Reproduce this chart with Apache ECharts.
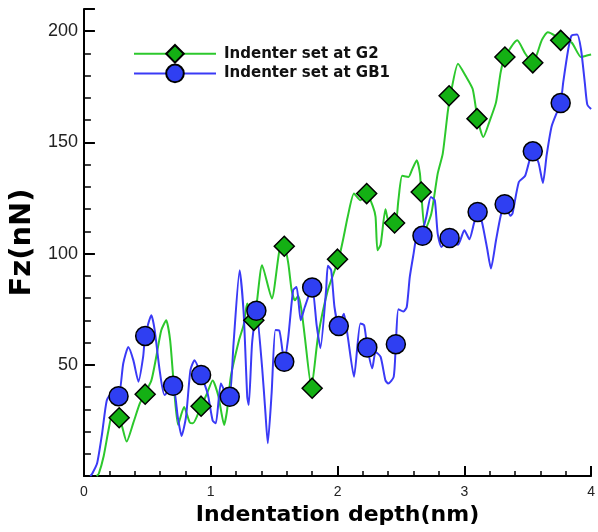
<!DOCTYPE html>
<html>
<head>
<meta charset="utf-8">
<script src="https://cdn.jsdelivr.net/npm/echarts@6/dist/echarts.min.js"></script>
<style>
    html, body { margin: 0; padding: 0; background: #fff; }
    #chart { width: 598px; height: 532px; }
</style>
</head>
<body>
<div id="chart"></div>
<script>
    // curves: [depth (nm), Fz (nN)]
    var g2Curve = [
        [0.10, 0], [0.117, 1], [0.156, 9], [0.195, 21], [0.22, 26.5], [0.28, 26], [0.337, 15.5],
        [0.39, 24], [0.44, 32.5], [0.48, 37], [0.532, 43], [0.57, 53.5], [0.61, 65.5], [0.649, 70],
        [0.68, 61], [0.706, 43], [0.742, 23], [0.79, 31], [0.835, 24], [0.86, 23.7], [0.924, 31.4],
        [0.97, 37], [1.015, 43], [1.06, 36], [1.106, 23], [1.13, 30], [1.158, 44.6], [1.223, 61],
        [1.26, 68], [1.288, 77.6], [1.34, 70], [1.405, 94.8], [1.482, 79.8], [1.547, 103], [1.58, 103.3],
        [1.612, 95.5], [1.638, 83.6], [1.664, 79], [1.69, 81], [1.716, 74.6], [1.742, 62.6], [1.794, 39.8],
        [1.846, 62.6], [1.924, 83.6], [2.01, 97.8], [2.05, 108], [2.08, 116.5], [2.13, 127], [2.18, 124],
        [2.23, 127], [2.28, 121], [2.30, 116.5], [2.315, 101.5], [2.34, 104], [2.378, 120], [2.40, 115],
        [2.456, 113.5], [2.48, 124], [2.51, 135], [2.56, 134.5], [2.586, 137.5], [2.625, 142], [2.65, 136],
        [2.66, 127.7], [2.69, 110.5], [2.74, 118], [2.79, 136], [2.83, 145], [2.87, 164], [2.89, 171],
        [2.95, 185.4], [3.01, 180], [3.066, 174], [3.105, 160.5], [3.15, 152.4], [3.196, 159], [3.25, 168],
        [3.287, 181.6], [3.32, 188.4], [3.417, 195.9], [3.48, 190], [3.54, 185.6], [3.611, 196], [3.658, 199.6],
        [3.715, 198], [3.76, 195.6], [3.845, 195], [3.92, 188.4], [3.96, 189], [4.0, 189.5]
    ];
    var gb1Curve = [
        [0.05, 0], [0.065, 1], [0.104, 5.7], [0.143, 19], [0.18, 34], [0.22, 37], [0.273, 36],
        [0.31, 50.6], [0.35, 58], [0.39, 52], [0.43, 42.4], [0.467, 53.6], [0.483, 63], [0.532, 72.3],
        [0.558, 65.6], [0.597, 47.6], [0.636, 36.4], [0.703, 40.6], [0.74, 26.6], [0.77, 18], [0.805, 26.6],
        [0.84, 47.6], [0.872, 52], [0.924, 45.4], [0.976, 37], [1.015, 25], [1.04, 23.7], [1.08, 41.6],
        [1.12, 37], [1.15, 35.6], [1.18, 59.6], [1.228, 92.5], [1.26, 73], [1.288, 35.6], [1.30, 32],
        [1.326, 59.6], [1.36, 74.3], [1.405, 49], [1.43, 29.6], [1.45, 14.7], [1.48, 37], [1.51, 65.6],
        [1.54, 65.5], [1.58, 51.4], [1.612, 62.6], [1.65, 83.6], [1.677, 85], [1.71, 70], [1.742, 76],
        [1.80, 84.8], [1.835, 68], [1.865, 57.5], [1.91, 83.6], [1.924, 94.5], [1.95, 92.5], [1.976, 76],
        [2.01, 67.5], [2.05, 73], [2.08, 63], [2.13, 44.6], [2.18, 68.6], [2.21, 67.8], [2.235, 57.8],
        [2.274, 48.4], [2.30, 55.8], [2.34, 53.6], [2.378, 43], [2.40, 41.6], [2.443, 44.6], [2.46, 59.3],
        [2.48, 75], [2.52, 74], [2.546, 76], [2.57, 89.5], [2.60, 100], [2.625, 108], [2.66, 108.5],
        [2.70, 116.5], [2.736, 125.5], [2.767, 124], [2.79, 109], [2.82, 103], [2.884, 107], [2.95, 104],
        [3.00, 110.5], [3.04, 106.5], [3.078, 114], [3.11, 118.5], [3.14, 114], [3.18, 102.3], [3.21, 93.3],
        [3.25, 106], [3.287, 117], [3.32, 122.2], [3.364, 117], [3.38, 118], [3.43, 132.2], [3.48, 135],
        [3.54, 146], [3.585, 141], [3.62, 131.8], [3.65, 144.5], [3.69, 157.5], [3.76, 168], [3.78, 177],
        [3.82, 192], [3.845, 198], [3.89, 198.5], [3.92, 192], [3.95, 177], [3.97, 167], [4.0, 165]
    ];
    // symbols drawn every ~0.22 nm
    var g2Marks = [
        [0.278, 26.2], [0.483, 36.8], [0.924, 31.4], [1.34, 70], [1.58, 103.3], [1.80, 39.5],
        [2.00, 97.5], [2.23, 127], [2.45, 113.8], [2.66, 127.7], [2.88, 171], [3.10, 160.7],
        [3.32, 188.4], [3.54, 185.8], [3.76, 195.9]
    ];
    var gb1Marks = [
        [0.273, 35.9], [0.483, 63], [0.703, 40.6], [0.924, 45.4], [1.15, 35.6], [1.36, 74.3],
        [1.58, 51.4], [1.80, 84.8], [2.01, 67.4], [2.235, 57.8], [2.46, 59.3], [2.67, 108],
        [2.884, 107], [3.105, 118.7], [3.318, 122.2], [3.54, 146], [3.76, 167.7]
    ];
    var yTickLabels = [50, 100, 150, 200];
    var seriesNames = ['Indenter set at G2', 'Indenter set at GB1'];

    var green = '#2cc82c', greenFill = '#14b014';
    var blue = '#3a3af6', blueFill = '#2f3ff2';

    var myChart = echarts.init(document.getElementById('chart'));
    var option = {
        backgroundColor: '#fff',
        animation: false,
        grid: { left: 83, right: 1, top: 9, bottom: 56, containLabel: false },
        legend: {
            orient: 'vertical',
            left: 128,
            top: 39,
            itemWidth: 82,
            itemHeight: 22,
            itemGap: 0,
            data: seriesNames,
            textStyle: {
                fontFamily: 'DejaVu Sans',
                fontWeight: 'bold',
                fontSize: 15,
                color: '#111',
                padding: [0, 0, 0, 3]
            }
        },
        xAxis: {
            type: 'value',
            min: 0,
            max: 4,
            interval: 1,
            name: 'Indentation depth(nm)',
            nameLocation: 'middle',
            nameGap: 26,
            nameTextStyle: { fontFamily: 'DejaVu Sans', fontWeight: 'bold', fontSize: 22, color: '#000' },
            axisLine: { lineStyle: { color: '#000', width: 2 } },
            axisTick: { inside: true, length: 10, lineStyle: { color: '#000', width: 2 } },
            minorTick: { show: true, splitNumber: 5, length: 5, lineStyle: { color: '#000', width: 1.5 } },
            axisLabel: { margin: 9, fontFamily: 'Liberation Sans', fontSize: 14, color: '#222' },
            splitLine: { show: false }
        },
        yAxis: {
            type: 'value',
            min: 0,
            max: 210,
            interval: 50,
            name: 'Fz(nN)',
            nameLocation: 'middle',
            nameGap: 40,
            nameTextStyle: { fontFamily: 'DejaVu Sans', fontWeight: 'bold', fontSize: 29, color: '#000' },
            axisLine: { lineStyle: { color: '#000', width: 2 } },
            axisTick: { inside: true, length: 11, lineStyle: { color: '#000', width: 2 } },
            minorTick: { show: true, splitNumber: 5, length: 7, lineStyle: { color: '#000', width: 1.5 } },
            axisLabel: {
                margin: 6,
                fontFamily: 'Liberation Sans',
                fontSize: 18,
                color: '#222',
                formatter: function (v) { return yTickLabels.indexOf(v) >= 0 ? String(v) : ''; }
            },
            splitLine: { show: false }
        },
        series: [
            {
                name: seriesNames[0],
                type: 'line',
                data: g2Curve,
                smooth: 0.2,
                showSymbol: false,
                symbol: 'diamond',
                lineStyle: { color: green, width: 2 },
                itemStyle: { color: greenFill, borderColor: '#000', borderWidth: 1.5 },
                z: 2
            },
            {
                name: seriesNames[1],
                type: 'line',
                data: gb1Curve,
                smooth: 0.2,
                showSymbol: false,
                symbol: 'circle',
                lineStyle: { color: blue, width: 2 },
                itemStyle: { color: blueFill, borderColor: '#000', borderWidth: 1.5 },
                z: 3
            },
            {
                name: seriesNames[0],
                type: 'scatter',
                data: g2Marks,
                symbol: 'diamond',
                symbolSize: 20,
                itemStyle: { color: greenFill, borderColor: '#000', borderWidth: 1.5, opacity: 1 },
                z: 4
            },
            {
                name: seriesNames[1],
                type: 'scatter',
                data: gb1Marks,
                symbol: 'circle',
                symbolSize: 19,
                itemStyle: { color: blueFill, borderColor: '#000', borderWidth: 1.5, opacity: 1 },
                z: 5
            }
        ]
    };
    myChart.setOption(option);
</script>
</body>
</html>
